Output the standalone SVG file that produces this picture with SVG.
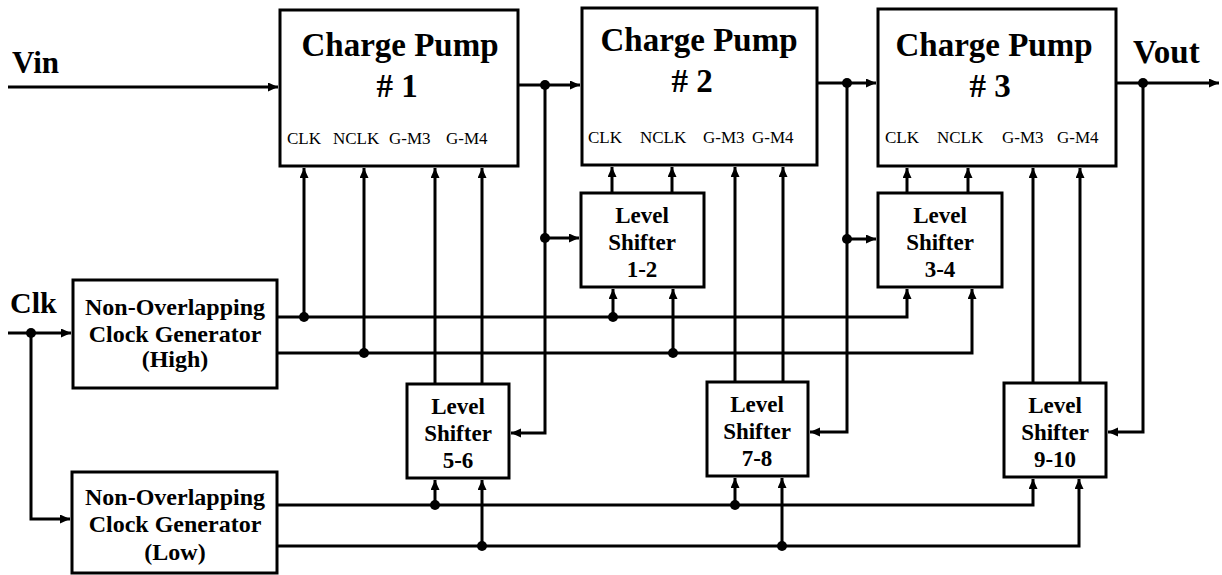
<svg xmlns="http://www.w3.org/2000/svg" width="1222" height="575" viewBox="0 0 1222 575">
<style>
.box{fill:#fff;stroke:#000;stroke-width:3}
.w{fill:none;stroke:#000;stroke-width:3}
.t{font-family:"Times New Roman","Liberation Serif","DejaVu Serif",serif;font-weight:bold;fill:#000;text-anchor:middle}
.big{font-size:33px}
.ls{font-size:23px}
.gen{font-size:24px}
.pin{font-family:"Times New Roman","Liberation Serif","DejaVu Serif",serif;font-size:17px;fill:#000}
.io{font-family:"Times New Roman","Liberation Serif","DejaVu Serif",serif;font-weight:bold;fill:#000}
.dot{fill:#000}
</style>
<defs>
<marker id="a" markerUnits="userSpaceOnUse" markerWidth="11" markerHeight="10" refX="10" refY="4.5" orient="auto">
<path d="M0,0 L10,4.5 L0,9 Z" fill="#000"/>
</marker>
</defs>
<rect width="1222" height="575" fill="#fff"/>
<g id="connectors">
<path class="w" d="M8,87 H278" marker-end="url(#a)"/>
<path class="w" d="M518,85 H580" marker-end="url(#a)"/>
<path class="w" d="M817,83 H876" marker-end="url(#a)"/>
<path class="w" d="M1116,83 H1219" marker-end="url(#a)"/>
<path class="w" d="M545,85 V433 H511" marker-end="url(#a)"/>
<path class="w" d="M545,238 H579" marker-end="url(#a)"/>
<path class="w" d="M847,83 V432 H810" marker-end="url(#a)"/>
<path class="w" d="M847,239 H876" marker-end="url(#a)"/>
<path class="w" d="M1143,83 V432 H1108" marker-end="url(#a)"/>
<path class="w" d="M8,333 H71" marker-end="url(#a)"/>
<path class="w" d="M31,333 V519 H70" marker-end="url(#a)"/>
<path class="w" d="M277,317 H907 V289" marker-end="url(#a)"/>
<path class="w" d="M277,353 H972 V289" marker-end="url(#a)"/>
<path class="w" d="M304,317 V168" marker-end="url(#a)"/>
<path class="w" d="M364,353 V168" marker-end="url(#a)"/>
<path class="w" d="M613,317 V289" marker-end="url(#a)"/>
<path class="w" d="M673,353 V289" marker-end="url(#a)"/>
<path class="w" d="M612,193 V167" marker-end="url(#a)"/>
<path class="w" d="M672,193 V167" marker-end="url(#a)"/>
<path class="w" d="M907,193 V168" marker-end="url(#a)"/>
<path class="w" d="M968,193 V168" marker-end="url(#a)"/>
<path class="w" d="M277,505 H1033 V479" marker-end="url(#a)"/>
<path class="w" d="M277,546 H1079 V479" marker-end="url(#a)"/>
<path class="w" d="M435,505 V480" marker-end="url(#a)"/>
<path class="w" d="M482,546 V480" marker-end="url(#a)"/>
<path class="w" d="M735,505 V478" marker-end="url(#a)"/>
<path class="w" d="M782,546 V478" marker-end="url(#a)"/>
<path class="w" d="M435,384 V168" marker-end="url(#a)"/>
<path class="w" d="M482,384 V168" marker-end="url(#a)"/>
<path class="w" d="M735,382 V167" marker-end="url(#a)"/>
<path class="w" d="M783,382 V167" marker-end="url(#a)"/>
<path class="w" d="M1033,383 V168" marker-end="url(#a)"/>
<path class="w" d="M1080,383 V168" marker-end="url(#a)"/>
<circle class="dot" cx="545" cy="85" r="5"/>
<circle class="dot" cx="847" cy="83" r="5"/>
<circle class="dot" cx="1143" cy="83" r="5"/>
<circle class="dot" cx="545" cy="238" r="5"/>
<circle class="dot" cx="847" cy="239" r="5"/>
<circle class="dot" cx="31" cy="333" r="5"/>
<circle class="dot" cx="304" cy="317" r="5"/>
<circle class="dot" cx="613" cy="317" r="5"/>
<circle class="dot" cx="364" cy="353" r="5"/>
<circle class="dot" cx="673" cy="353" r="5"/>
<circle class="dot" cx="435" cy="505" r="5"/>
<circle class="dot" cx="735" cy="505" r="5"/>
<circle class="dot" cx="482" cy="546" r="5"/>
<circle class="dot" cx="782" cy="546" r="5"/>
</g>
<text class="io" x="12" y="73" font-size="31">Vin</text>
<text class="io" x="1133" y="63" font-size="33">Vout</text>
<text class="io" x="10" y="313" font-size="30">Clk</text>
<g id="cp1">
<rect class="box" x="280" y="10" width="238" height="156"/>
<text class="t big" x="400" y="56">Charge Pump</text>
<text class="t big" x="397" y="97"># 1</text>
<text class="pin" x="287" y="144">CLK</text>
<text class="pin" x="333" y="144">NCLK</text>
<text class="pin" x="389" y="144">G-M3</text>
<text class="pin" x="446" y="144">G-M4</text>
</g>
<g id="cp2">
<rect class="box" x="582" y="8" width="235" height="157"/>
<text class="t big" x="699" y="51">Charge Pump</text>
<text class="t big" x="692" y="92"># 2</text>
<text class="pin" x="588" y="143">CLK</text>
<text class="pin" x="640" y="143">NCLK</text>
<text class="pin" x="703" y="143">G-M3</text>
<text class="pin" x="752" y="143">G-M4</text>
</g>
<g id="cp3">
<rect class="box" x="878" y="9" width="238" height="157"/>
<text class="t big" x="994" y="56">Charge Pump</text>
<text class="t big" x="990" y="97"># 3</text>
<text class="pin" x="885" y="143">CLK</text>
<text class="pin" x="937" y="143">NCLK</text>
<text class="pin" x="1002" y="143">G-M3</text>
<text class="pin" x="1057" y="143">G-M4</text>
</g>
<g id="ls12">
<rect class="box" x="581" y="193" width="123" height="94"/>
<text class="t ls" x="642" y="223">Level</text>
<text class="t ls" x="642" y="250">Shifter</text>
<text class="t ls" x="642" y="277">1-2</text>
</g>
<g id="ls34">
<rect class="box" x="878" y="193" width="124" height="94"/>
<text class="t ls" x="940" y="223">Level</text>
<text class="t ls" x="940" y="250">Shifter</text>
<text class="t ls" x="940" y="277">3-4</text>
</g>
<g id="ls56">
<rect class="box" x="407" y="384" width="102" height="94"/>
<text class="t ls" x="458" y="414">Level</text>
<text class="t ls" x="458" y="441">Shifter</text>
<text class="t ls" x="458" y="468">5-6</text>
</g>
<g id="ls78">
<rect class="box" x="707" y="382" width="101" height="94"/>
<text class="t ls" x="757" y="412">Level</text>
<text class="t ls" x="757" y="439">Shifter</text>
<text class="t ls" x="757" y="466">7-8</text>
</g>
<g id="ls910">
<rect class="box" x="1004" y="383" width="102" height="94"/>
<text class="t ls" x="1055" y="413">Level</text>
<text class="t ls" x="1055" y="440">Shifter</text>
<text class="t ls" x="1055" y="467">9-10</text>
</g>
<g id="ncg-high">
<rect class="box" x="73" y="280" width="204" height="108"/>
<text class="t gen" x="175" y="315">Non-Overlapping</text>
<text class="t gen" x="175" y="342">Clock Generator</text>
<text class="t gen" x="175" y="367">(High)</text>
</g>
<g id="ncg-low">
<rect class="box" x="72" y="472" width="205" height="101"/>
<text class="t gen" x="175" y="505">Non-Overlapping</text>
<text class="t gen" x="175" y="532">Clock Generator</text>
<text class="t gen" x="175" y="560">(Low)</text>
</g>
</svg>
